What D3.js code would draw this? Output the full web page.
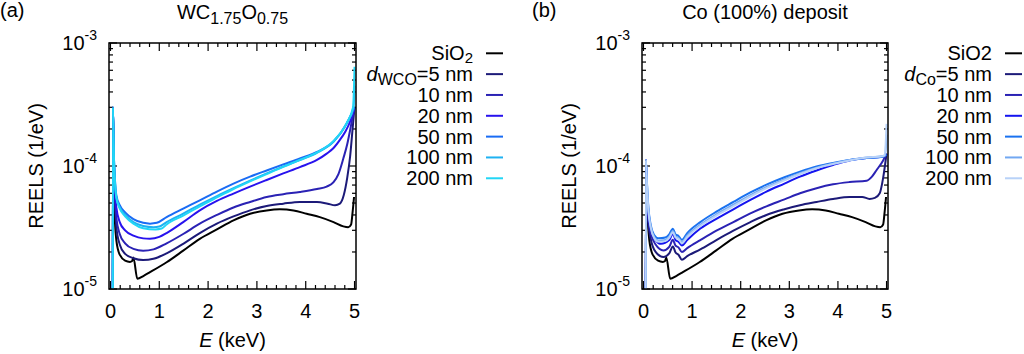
<!DOCTYPE html>
<html><head><meta charset="utf-8">
<script src="https://cdn.jsdelivr.net/npm/d3@7"></script>
<style>body{margin:0;background:#fff}svg{display:block}text{font-family:"Liberation Sans",Arial,Helvetica,sans-serif;fill:#000}</style>
</head><body><svg id="c" width="1024" height="354"></svg>
<script>
// ---------- data (E in keV, REELS in 1/eV) ----------
const xTicks = [0,1,2,3,4,5];
const yTicks = [1e-5,1e-4,1e-3];
const yTickExp = ["-5","-4","-3"];
const thicknessLabels = ["5 nm","10 nm","20 nm","50 nm","100 nm","200 nm"];

const sio2 = [[0.07,5.5e-5],[0.09,3.6e-5],[0.12,2.5e-5],[0.19,1.9e-5],[0.30,1.70e-5],[0.40,1.66e-5],[0.44,1.68e-5],[0.47,1.80e-5],[0.55,1.21e-5],[0.68,1.28e-5],[0.81,1.37e-5],[1.15,1.65e-5],[1.49,2.05e-5],[1.83,2.56e-5],[2.18,3.05e-5],[2.52,3.61e-5],[2.86,4.09e-5],[3.20,4.35e-5],[3.47,4.44e-5],[3.75,4.35e-5],[4.02,4.09e-5],[4.29,3.84e-5],[4.57,3.50e-5],[4.77,3.23e-5],[4.87,3.18e-5],[4.93,3.35e-5],[4.96,4.2e-5],[4.99,5.6e-5]];

// panel (a) WC1.75O0.75
const wco5 = [[0.045,1e-6],[0.05,3.0e-4],[0.07,1.1e-4],[0.09,5.5e-5],[0.12,3.2e-5],[0.19,2.3e-5],[0.30,1.93e-5],[0.47,1.78e-5],[0.67,1.72e-5],[0.88,1.76e-5],[1.15,1.95e-5],[1.49,2.33e-5],[1.83,2.85e-5],[2.18,3.4e-5],[2.52,3.89e-5],[2.86,4.36e-5],[3.20,4.73e-5],[3.54,4.94e-5],[3.88,5.10e-5],[4.23,5.10e-5],[4.45,4.94e-5],[4.60,4.79e-5],[4.70,4.94e-5],[4.78,5.8e-5],[4.85,8.0e-5],[4.91,1.2e-4],[4.96,2.0e-4],[5.0,3.0e-4]];
const wco10 = [[0.045,1e-6],[0.05,3.0e-4],[0.07,1.1e-4],[0.09,6.0e-5],[0.12,3.8e-5],[0.19,2.8e-5],[0.30,2.35e-5],[0.47,2.12e-5],[0.67,2.05e-5],[0.88,2.1e-5],[1.15,2.35e-5],[1.49,2.8e-5],[1.83,3.4e-5],[2.18,4.0e-5],[2.52,4.6e-5],[2.86,5.1e-5],[3.20,5.6e-5],[3.54,5.9e-5],[3.88,6.15e-5],[4.23,6.5e-5],[4.43,6.8e-5],[4.57,7.4e-5],[4.67,8.6e-5],[4.77,1.15e-4],[4.85,1.5e-4],[4.91,1.96e-4],[4.96,2.5e-4],[5.0,3.0e-4]];
const wco20 = [[0.045,1e-6],[0.05,3.0e-4],[0.07,1.15e-4],[0.09,7.0e-5],[0.12,4.6e-5],[0.19,3.5e-5],[0.30,3.0e-5],[0.47,2.72e-5],[0.67,2.58e-5],[0.81,2.56e-5],[1.0,2.65e-5],[1.15,2.85e-5],[1.49,3.5e-5],[1.83,4.36e-5],[2.18,5.2e-5],[2.52,5.97e-5],[2.86,6.8e-5],[3.20,7.7e-5],[3.54,8.7e-5],[3.88,9.8e-5],[4.23,1.12e-4],[4.43,1.26e-4],[4.57,1.4e-4],[4.70,1.63e-4],[4.81,1.9e-4],[4.91,2.3e-4],[5.0,3.0e-4]];
const wco50 = [[0.045,1e-6],[0.05,3.0e-4],[0.07,1.2e-4],[0.09,8.0e-5],[0.12,5.8e-5],[0.19,4.8e-5],[0.30,4.2e-5],[0.47,3.7e-5],[0.67,3.45e-5],[0.81,3.40e-5],[0.95,3.45e-5],[1.15,3.84e-5],[1.49,4.5e-5],[1.83,5.26e-5],[2.18,6.2e-5],[2.52,7.2e-5],[2.86,8.2e-5],[3.20,9.2e-5],[3.54,1.03e-4],[3.88,1.15e-4],[4.23,1.30e-4],[4.57,1.58e-4],[4.84,2.22e-4],[5.0,3.0e-4]];
const wco100 = [[0.045,1e-6],[0.05,3.0e-4],[0.07,1.2e-4],[0.09,7.8e-5],[0.12,5.6e-5],[0.19,4.6e-5],[0.30,4.0e-5],[0.47,3.5e-5],[0.67,3.25e-5],[0.88,3.18e-5],[1.0,3.22e-5],[1.15,3.5e-5],[1.49,4.1e-5],[1.83,4.85e-5],[2.18,5.7e-5],[2.52,6.6e-5],[2.86,7.6e-5],[3.20,8.7e-5],[3.54,9.9e-5],[3.88,1.12e-4],[4.23,1.28e-4],[4.57,1.58e-4],[4.84,2.22e-4],[4.98,3.0e-4],[5.0,4.5e-4]];
const wco200 = [[0.045,1e-6],[0.05,3.0e-4],[0.07,1.2e-4],[0.09,7.6e-5],[0.12,5.5e-5],[0.19,4.5e-5],[0.30,3.9e-5],[0.47,3.4e-5],[0.67,3.12e-5],[0.92,3.05e-5],[1.05,3.1e-5],[1.15,3.35e-5],[1.49,3.95e-5],[1.83,4.7e-5],[2.18,5.55e-5],[2.52,6.5e-5],[2.86,7.5e-5],[3.20,8.6e-5],[3.54,9.85e-5],[3.88,1.12e-4],[4.23,1.29e-4],[4.57,1.6e-4],[4.84,2.24e-4],[4.97,3.0e-4],[5.0,6.4e-4]];

// panel (b) Co (100%) deposit
const co5 = [[0.045,1e-6],[0.05,1.12e-4],[0.07,5.2e-5],[0.10,3.4e-5],[0.15,2.55e-5],[0.25,2.0e-5],[0.41,1.82e-5],[0.53,1.95e-5],[0.605,2.22e-5],[0.66,1.98e-5],[0.72,1.9e-5],[0.79,1.73e-5],[0.9,1.85e-5],[1.17,2.1e-5],[1.5,2.5e-5],[1.85,2.98e-5],[2.2,3.5e-5],[2.53,4.0e-5],[2.9,4.45e-5],[3.22,4.8e-5],[3.56,5.1e-5],[3.90,5.4e-5],[4.24,5.6e-5],[4.50,5.6e-5],[4.65,5.4e-5],[4.76,5.5e-5],[4.86,6.0e-5],[4.93,8.0e-5],[5.0,1.26e-4]];
const co10 = [[0.045,1e-6],[0.05,1.12e-4],[0.07,5.9e-5],[0.10,3.8e-5],[0.15,2.85e-5],[0.25,2.3e-5],[0.41,2.06e-5],[0.53,2.2e-5],[0.605,2.51e-5],[0.66,2.25e-5],[0.72,2.18e-5],[0.79,2.0e-5],[0.9,2.15e-5],[1.17,2.5e-5],[1.5,2.98e-5],[1.85,3.5e-5],[2.2,4.12e-5],[2.53,4.7e-5],[2.9,5.35e-5],[3.22,6.0e-5],[3.56,6.6e-5],[3.90,7.1e-5],[4.24,7.4e-5],[4.59,7.6e-5],[4.70,8.2e-5],[4.79,9.2e-5],[4.93,1.11e-4],[5.0,1.26e-4]];
const co20 = [[0.045,1e-6],[0.05,1.12e-4],[0.07,6.6e-5],[0.10,4.2e-5],[0.15,3.1e-5],[0.25,2.5e-5],[0.36,2.33e-5],[0.53,2.5e-5],[0.605,2.81e-5],[0.66,2.5e-5],[0.72,2.42e-5],[0.79,2.26e-5],[0.9,2.5e-5],[1.17,3.1e-5],[1.5,3.72e-5],[1.85,4.45e-5],[2.2,5.3e-5],[2.53,6.2e-5],[2.9,7.2e-5],[3.22,8.2e-5],[3.56,9.2e-5],[3.90,1.02e-4],[4.24,1.11e-4],[4.59,1.16e-4],[4.90,1.19e-4],[5.0,1.24e-4]];
const co50 = [[0.045,1e-6],[0.05,1.12e-4],[0.07,7.6e-5],[0.10,4.7e-5],[0.15,3.3e-5],[0.22,2.75e-5],[0.31,2.58e-5],[0.45,2.62e-5],[0.53,2.78e-5],[0.605,3.09e-5],[0.66,2.78e-5],[0.72,2.7e-5],[0.79,2.51e-5],[0.9,2.85e-5],[1.17,3.5e-5],[1.5,4.25e-5],[1.85,5.1e-5],[2.2,6.1e-5],[2.53,7.05e-5],[2.9,8.1e-5],[3.22,9.0e-5],[3.56,9.9e-5],[3.90,1.06e-4],[4.24,1.12e-4],[4.59,1.16e-4],[4.93,1.19e-4],[5.0,1.24e-4]];
const co100 = [[0.045,1e-6],[0.05,1.12e-4],[0.07,7.4e-5],[0.10,4.5e-5],[0.15,3.2e-5],[0.22,2.65e-5],[0.31,2.47e-5],[0.45,2.5e-5],[0.53,2.66e-5],[0.605,2.96e-5],[0.66,2.68e-5],[0.72,2.6e-5],[0.79,2.41e-5],[0.9,2.72e-5],[1.17,3.33e-5],[1.5,4.05e-5],[1.85,4.85e-5],[2.2,5.8e-5],[2.53,6.75e-5],[2.9,7.8e-5],[3.22,8.75e-5],[3.56,9.7e-5],[3.90,1.05e-4],[4.24,1.12e-4],[4.59,1.17e-4],[4.90,1.2e-4],[4.97,1.22e-4],[5.0,1.8e-4]];
const co200 = [[0.045,1e-6],[0.05,1.12e-4],[0.07,7.3e-5],[0.10,4.4e-5],[0.15,3.15e-5],[0.22,2.6e-5],[0.31,2.42e-5],[0.45,2.45e-5],[0.53,2.6e-5],[0.605,2.9e-5],[0.66,2.62e-5],[0.72,2.55e-5],[0.79,2.36e-5],[0.9,2.65e-5],[1.17,3.25e-5],[1.5,3.95e-5],[1.85,4.72e-5],[2.2,5.65e-5],[2.53,6.6e-5],[2.9,7.65e-5],[3.22,8.6e-5],[3.56,9.6e-5],[3.90,1.04e-4],[4.24,1.11e-4],[4.59,1.17e-4],[4.90,1.2e-4],[4.96,1.22e-4],[5.0,2.2e-4]];

const colorsA = ["#000000","#1c1a78","#2a22b4","#2812ee","#1a6cf4","#1fb2f2","#22d6f6"];
const colorsB = ["#000000","#1c1a78","#2a22b4","#1414f0","#1a72f0","#72a8f2","#b8d2f8"];

// ---------- drawing ----------
const svg = d3.select("#c");
svg.append("rect").attr("width",1024).attr("height",354).attr("fill","#fff");
const FS = 20, SS = 16;

function panel(o){
  const g = svg.append("g");
  const x = d3.scaleLinear().domain([-0.03,5.03]).range([o.left,o.right]);
  const y = d3.scaleLog().domain([1e-5,1e-3]).range([o.bottom,o.top]);
  const id = "clip"+o.key;
  svg.append("clipPath").attr("id",id).append("rect")
    .attr("x",o.left).attr("y",o.top).attr("width",o.right-o.left).attr("height",o.bottom-o.top);

  // ticks (inward, mirrored)
  const minorX = d3.range(0,5.001,0.2).filter(v=>Math.abs(v-Math.round(v))>1e-6);
  const minorY = [];
  [1e-5,1e-4].forEach(d=>{for(let k=2;k<=9;k++) minorY.push(d*k);});
  const tk = g.append("g").attr("stroke","#000").attr("stroke-width",1.2);
  xTicks.forEach(v=>{
    tk.append("line").attr("x1",x(v)).attr("x2",x(v)).attr("y1",o.bottom).attr("y2",o.bottom-8);
    tk.append("line").attr("x1",x(v)).attr("x2",x(v)).attr("y1",o.top).attr("y2",o.top+8);
  });
  minorX.forEach(v=>{
    tk.append("line").attr("x1",x(v)).attr("x2",x(v)).attr("y1",o.bottom).attr("y2",o.bottom-4);
    tk.append("line").attr("x1",x(v)).attr("x2",x(v)).attr("y1",o.top).attr("y2",o.top+4);
  });
  yTicks.forEach(v=>{
    tk.append("line").attr("y1",y(v)).attr("y2",y(v)).attr("x1",o.left).attr("x2",o.left+8);
    tk.append("line").attr("y1",y(v)).attr("y2",y(v)).attr("x1",o.right).attr("x2",o.right-8);
  });
  minorY.forEach(v=>{
    tk.append("line").attr("y1",y(v)).attr("y2",y(v)).attr("x1",o.left).attr("x2",o.left+4);
    tk.append("line").attr("y1",y(v)).attr("y2",y(v)).attr("x1",o.right).attr("x2",o.right-4);
  });

  // curves
  const line = d3.line().x(d=>x(d[0])).y(d=>y(d[1])).curve(d3.curveMonotoneX);
  const cg = g.append("g").attr("clip-path",`url(#${id})`);
  o.series.forEach((s,i)=>{
    cg.append("path").datum(s).attr("d",line).attr("fill","none")
      .attr("stroke",o.colors[i]).attr("stroke-width",2).attr("stroke-linejoin","round");
  });

  // frame
  g.append("rect").attr("x",o.left).attr("y",o.top).attr("width",o.right-o.left).attr("height",o.bottom-o.top)
    .attr("fill","none").attr("stroke","#000").attr("stroke-width",1.5);

  // tick labels
  xTicks.forEach(v=>{
    g.append("text").attr("x",x(v)).attr("y",o.bottom+29).attr("text-anchor","middle")
      .attr("font-size",FS).text(v);
  });
  yTicks.forEach((v,i)=>{
    const t = g.append("text").attr("x",o.left-12).attr("y",y(v)+7).attr("text-anchor","end").attr("font-size",FS);
    t.append("tspan").text("10");
    t.append("tspan").attr("font-size",14).attr("dy",-10).text(yTickExp[i]);
  });

  // axis titles
  const xt = g.append("text").attr("x",(o.left+o.right)/2).attr("y",347).attr("text-anchor","middle").attr("font-size",FS);
  xt.append("tspan").attr("font-style","italic").text("E");
  xt.append("tspan").text(" (keV)");
  g.append("text").attr("transform",`translate(${o.left-66},${(o.top+o.bottom)/2}) rotate(-90)`)
    .attr("text-anchor","middle").attr("font-size",FS).text("REELS (1/eV)");

  // panel letter & title
  g.append("text").attr("x",o.letterX).attr("y",17).attr("font-size",FS).text(o.letter);
  o.title(g.append("text").attr("x",(o.left+o.right)/2).attr("y",19).attr("text-anchor","middle").attr("font-size",FS));

  // legend
  o.legend.forEach((lab,i)=>{
    const cy = 53.3 + i*20.83;
    const t = g.append("text").attr("x",o.legX).attr("y",cy+7).attr("text-anchor","end").attr("font-size",FS);
    lab(t);
    g.append("line").attr("x1",o.legX+13).attr("x2",o.legX+30).attr("y1",cy).attr("y2",cy)
      .attr("stroke",o.colors[i]).attr("stroke-width",2);
  });
}

const legA = [
  t=>{t.append("tspan").text("SiO"); t.append("tspan").attr("font-size",15).attr("dy",3).text("2");},
  t=>{t.append("tspan").attr("font-style","italic").text("d"); t.append("tspan").attr("font-size",SS).attr("dy",4).text("WCO"); t.append("tspan").attr("dy",-4).text("="+thicknessLabels[0]);}
].concat(thicknessLabels.slice(1).map(l=>t=>t.text(l)));
const legB = [
  t=>t.text("SiO2"),
  t=>{t.append("tspan").attr("font-style","italic").text("d"); t.append("tspan").attr("font-size",SS).attr("dy",4).text("Co"); t.append("tspan").attr("dy",-4).text("="+thicknessLabels[0]);}
].concat(thicknessLabels.slice(1).map(l=>t=>t.text(l)));

panel({key:"a",left:109,right:356,top:43,bottom:289,letter:"(a)",letterX:0,
  title:t=>{t.append("tspan").text("WC"); t.append("tspan").attr("font-size",SS).attr("dy",5).text("1.75");
            t.append("tspan").attr("dy",-5).text("O"); t.append("tspan").attr("font-size",SS).attr("dy",5).text("0.75");},
  series:[sio2,wco5,wco10,wco20,wco50,wco100,wco200],colors:colorsA,legend:legA,legX:473});
panel({key:"b",left:642,right:888,top:43,bottom:289,letter:"(b)",letterX:532,
  title:t=>t.text("Co (100%) deposit"),
  series:[sio2,co5,co10,co20,co50,co100,co200],colors:colorsB,legend:legB,legX:992});
</script></body></html>
